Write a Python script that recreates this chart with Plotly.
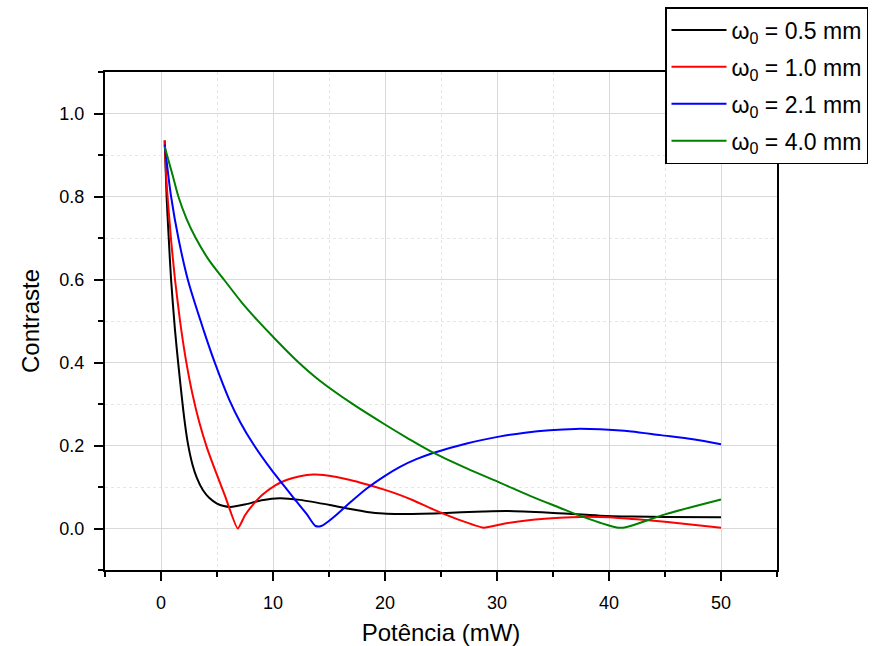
import plotly.graph_objects as go

# ---- data ----
x_05 = [0.33, 0.5, 0.69, 0.9, 1.25, 1.55, 2.08, 2.4, 2.8, 3.2, 3.75, 4.3, 5.0, 5.6, 6.2, 7.5, 9.0, 10.6,
        12.4, 15.4, 16.9, 18.4, 19.85, 21.3, 25.0, 28.8, 31.0, 34.7, 39.2, 42.0, 45.0, 50.0]
y_05 = [0.935, 0.80, 0.70, 0.60, 0.478, 0.395, 0.265, 0.205, 0.155, 0.122, 0.092, 0.074, 0.060, 0.054, 0.052,
        0.058, 0.068, 0.073, 0.069, 0.055, 0.047, 0.040, 0.036, 0.035, 0.037, 0.041, 0.042, 0.038, 0.031,
        0.029, 0.028, 0.027]

x_10 = [0.33, 0.5, 0.9, 1.25, 1.7, 2.2, 2.8, 3.4, 4.1, 4.8, 5.7, 6.85, 7.5, 8.2, 9.0,
        10.2, 11.2, 12.4, 13.6, 14.5, 16.9, 18.4, 20.0, 21.3, 22.5, 24.3, 26.5, 28.8, 30.5,
        33.2, 35.6, 37.5, 40.0, 42.5, 45.0, 47.5, 50.0]
y_10 = [0.935, 0.83, 0.695, 0.60, 0.50, 0.41, 0.325, 0.258, 0.195, 0.143, 0.08, 0.0, 0.032, 0.057, 0.080,
        0.104, 0.117, 0.126, 0.130, 0.129, 0.117, 0.106, 0.093, 0.081, 0.068, 0.046, 0.022, 0.002, 0.011,
        0.021, 0.026, 0.028, 0.027, 0.022, 0.016, 0.009, 0.002]

x_21 = [0.33, 0.9, 1.55, 2.44, 3.84, 4.73, 6.1, 7.1, 8.25, 9.9, 10.9, 11.8, 13.0, 13.8, 14.3,
        15.4, 16.9, 18.4, 20.0, 21.3, 22.8, 24.3, 27.3, 30.3, 32.5, 34.7, 37.0, 39.2, 42.0, 44.6, 47.5, 50.0]
y_21 = [0.925, 0.80, 0.70, 0.595, 0.475, 0.405, 0.31, 0.255, 0.203, 0.14, 0.106, 0.075, 0.035, 0.006, 0.006,
        0.027, 0.063, 0.097, 0.127, 0.148, 0.167, 0.182, 0.205, 0.222, 0.231, 0.237, 0.240, 0.239, 0.234,
        0.225, 0.215, 0.203]

x_40 = [0.33, 1.05, 1.55, 2.3, 3.1, 4.3, 5.7, 7.2, 8.6, 10.0, 12.1, 14.1, 17.0, 19.85, 22.0, 24.3,
        27.3, 30.3, 33.0, 35.6, 37.1, 39.2, 40.8, 41.5, 45.0, 50.0]
y_40 = [0.92, 0.85, 0.80, 0.745, 0.70, 0.646, 0.597, 0.545, 0.502, 0.462, 0.405, 0.358, 0.302, 0.253, 0.218,
        0.183, 0.145, 0.110, 0.078, 0.050, 0.034, 0.014, 0.002, 0.003, 0.034, 0.070]

names = ["ω<sub>0</sub> = 0.5 mm", "ω<sub>0</sub> = 1.0 mm",
         "ω<sub>0</sub> = 2.1 mm", "ω<sub>0</sub> = 4.0 mm"]
colors = ["#000000", "#ff0000", "#0000ff", "#008000"]
smooth = [0.8, 0.5, 0.8, 0.9]

x_ticks = [0, 10, 20, 30, 40, 50]
y_ticks = [0.0, 0.2, 0.4, 0.6, 0.8, 1.0]

fig = go.Figure()
for i, (xs, ys, nm, c, s) in enumerate(zip([x_05, x_10, x_21, x_40], [y_05, y_10, y_21, y_40],
                                          names, colors, smooth)):
    fig.add_trace(go.Scatter(x=xs, y=ys, mode="lines", name=nm, legendgroup="g%d" % i,
                             line=dict(color=c, width=2, shape="spline", smoothing=s)))

font_family = "Liberation Sans, Arial, sans-serif"
grid_major = "#d9d9d9"
grid_minor = "#e6e6e6"

fig.update_layout(
    width=872, height=646,
    margin=dict(l=105, r=95, t=72, b=76, autoexpand=False),
    paper_bgcolor="white", plot_bgcolor="white",
    font=dict(family=font_family, color="black"),
    showlegend=True,
    legend=dict(
        xref="container", yref="container",
        x=665 / 872, y=1 - 7 / 646, xanchor="left", yanchor="top",
        bordercolor="black", borderwidth=1.5, bgcolor="white",
        font=dict(size=23, family=font_family, color="black"),
        itemwidth=55, tracegroupgap=4,
    ),
    xaxis=dict(
        range=[-5, 55], tickvals=x_ticks, ticktext=[str(v) for v in x_ticks],
        showline=True, linecolor="black", linewidth=2, mirror=True,
        ticks="outside", ticklen=9, tickwidth=2, tickcolor="black",
        tickfont=dict(size=18), ticklabelstandoff=6,
        showgrid=True, gridcolor=grid_major, gridwidth=1,
        zeroline=False,
        minor=dict(dtick=5, tick0=0, ticks="outside", ticklen=5, tickwidth=2, tickcolor="black",
                   showgrid=True, gridcolor=grid_minor, griddash="dot", gridwidth=1),
        title=dict(text="Potência (mW)", font=dict(size=24), standoff=14),
    ),
    yaxis=dict(
        range=[-0.1, 1.1], tickvals=y_ticks, ticktext=["%.1f" % v for v in y_ticks],
        showline=True, linecolor="black", linewidth=2, mirror=True,
        ticks="outside", ticklen=9, tickwidth=2, tickcolor="black",
        tickfont=dict(size=18), ticklabelstandoff=6,
        showgrid=True, gridcolor=grid_major, gridwidth=1,
        zeroline=False,
        minor=dict(dtick=0.1, tick0=0, ticks="outside", ticklen=5, tickwidth=2, tickcolor="black",
                   showgrid=True, gridcolor=grid_minor, griddash="dot", gridwidth=1),
        title=dict(text="Contraste", font=dict(size=24), standoff=13),
    ),
)

fig.write_html("out.html", config={"displayModeBar": False},
               post_script="document.body.style.margin='0';document.body.style.overflow='hidden';")
